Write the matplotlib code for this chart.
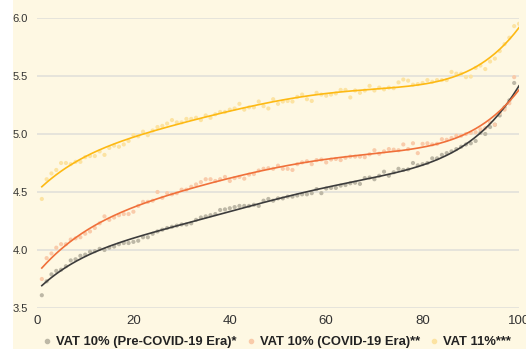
import numpy as np
import matplotlib
matplotlib.use("Agg")
import matplotlib.pyplot as plt
from matplotlib.patches import Rectangle
from matplotlib.lines import Line2D

plt.rcParams["font.family"] = ["Liberation Sans", "DejaVu Sans"]

series_labels = ["VAT 10% (Pre-COVID-19 Era)*", "VAT 10% (COVID-19 Era)**", "VAT 11%***"]

pre_covid = [3.61, 3.73, 3.79, 3.82, 3.83, 3.86, 3.91, 3.92, 3.95, 3.96,
             3.985, 3.99, 4.01, 4.00, 4.02, 4.03, 4.05, 4.06, 4.06, 4.07,
             4.08, 4.11, 4.11, 4.14, 4.16, 4.175, 4.19, 4.20, 4.21, 4.22,
             4.22, 4.23, 4.26, 4.28, 4.29, 4.30, 4.31, 4.345, 4.35, 4.36,
             4.37, 4.38, 4.38, 4.38, 4.39, 4.38, 4.425, 4.44, 4.425, 4.445,
             4.445, 4.46, 4.46, 4.47, 4.48, 4.48, 4.49, 4.525, 4.49, 4.53,
             4.535, 4.535, 4.555, 4.56, 4.575, 4.58, 4.57, 4.62, 4.625, 4.61,
             4.64, 4.675, 4.64, 4.67, 4.70, 4.69, 4.695, 4.75, 4.73, 4.74,
             4.75, 4.79, 4.79, 4.82, 4.835, 4.85, 4.87, 4.89, 4.91, 4.92,
             4.94, 5.01, 5.00, 5.06, 5.08, 5.16, 5.23, 5.29, 5.44]

covid = [3.75, 3.93, 3.97, 4.02, 4.05, 4.05, 4.09, 4.10, 4.11, 4.14,
         4.16, 4.19, 4.23, 4.29, 4.26, 4.28, 4.30, 4.31, 4.31, 4.33,
         4.38, 4.415, 4.415, 4.425, 4.50, 4.45, 4.49, 4.48, 4.49, 4.52,
         4.52, 4.545, 4.565, 4.585, 4.61, 4.61, 4.595, 4.61, 4.63, 4.595,
         4.62, 4.63, 4.615, 4.65, 4.655, 4.685, 4.70, 4.705, 4.70, 4.727,
         4.70, 4.70, 4.69, 4.74, 4.755, 4.765, 4.74, 4.775, 4.78, 4.755,
         4.78, 4.785, 4.775, 4.795, 4.805, 4.805, 4.805, 4.80, 4.825, 4.86,
         4.83, 4.85, 4.87, 4.865, 4.86, 4.91, 4.87, 4.92, 4.835, 4.915,
         4.92, 4.91, 4.915, 4.955, 4.95, 4.965, 4.985, 4.985, 5.00, 5.01,
         5.015, 5.04, 5.05, 5.10, 5.08, 5.18, 5.21, 5.265, 5.49]

vat11 = [4.44, 4.61, 4.66, 4.69, 4.75, 4.75, 4.74, 4.76, 4.76, 4.80,
         4.81, 4.81, 4.85, 4.82, 4.88, 4.90, 4.89, 4.91, 4.94, 4.99,
         4.98, 5.02, 4.99, 5.03, 5.06, 5.07, 5.09, 5.12, 5.10, 5.10,
         5.13, 5.13, 5.14, 5.12, 5.16, 5.14, 5.17, 5.19, 5.19, 5.21,
         5.22, 5.26, 5.21, 5.23, 5.23, 5.28, 5.24, 5.22, 5.30, 5.26,
         5.28, 5.285, 5.28, 5.32, 5.34, 5.30, 5.285, 5.355, 5.34, 5.33,
         5.34, 5.35, 5.38, 5.38, 5.315, 5.375, 5.355, 5.375, 5.415, 5.375,
         5.40, 5.385, 5.40, 5.395, 5.445, 5.47, 5.46, 5.425, 5.43, 5.44,
         5.465, 5.45, 5.465, 5.465, 5.465, 5.535, 5.52, 5.52, 5.49, 5.495,
         5.57, 5.59, 5.56, 5.625, 5.65, 5.715, 5.775, 5.83, 5.93, 5.95]

x_ticks = [0, 20, 40, 60, 80, 100]
y_ticks = [3.5, 4.0, 4.5, 5.0, 5.5, 6.0]
trend_degree = 5

point_colors = ["#BDB8A6", "#F9CBAA", "#FCE3A2"]
line_colors = ["#3C3C3C", "#F0703A", "#FDB913"]
bg = "#FEF8E3"

W, H = 526, 349
fig = plt.figure(figsize=(W / 100, H / 100), dpi=100, facecolor=bg)
fig.patches.append(Rectangle((0, 0), 13 / W, 1, transform=fig.transFigure,
                             facecolor="white", edgecolor="none", zorder=0))

ax = fig.add_axes([37 / W, (H - 308) / H, 482 / W, 290 / H])
ax.set_facecolor(bg)
ax.patch.set_alpha(0)

all_series = [pre_covid, covid, vat11]
for vals, pc, lc in zip(all_series, point_colors, line_colors):
    xs = np.arange(1, len(vals) + 1)
    ax.scatter(xs, vals, s=9, color=pc, edgecolors="none", zorder=2)
    coef = np.polyfit(xs, vals, trend_degree)
    xf = np.linspace(1, 100, 300)
    ax.plot(xf, np.polyval(coef, xf), color=lc, lw=1.2, zorder=3)

ax.set_xlim(0, 100)
ax.set_ylim(3.5, 6.0)
ax.set_xticks(x_ticks)
ax.set_yticks(y_ticks)
ax.set_yticklabels([f"{v:.1f}" for v in y_ticks])
ax.grid(axis="y", color="#E2E0DA", lw=1.2, zorder=1)
ax.grid(axis="x", visible=False)
for s in ax.spines.values():
    s.set_visible(False)
ax.tick_params(axis="both", length=0, colors="#333333")
ax.tick_params(axis="y", labelsize=8, pad=6.5)
ax.tick_params(axis="x", labelsize=9.5, pad=5)
ax.set_axisbelow(True)

handles = [Line2D([], [], ls="none", marker="o", ms=3, color=c) for c in point_colors]
fig.legend(handles, series_labels, loc="center", ncol=3,
           bbox_to_anchor=(0.524, 0.02), frameon=False,
           prop={"weight": "bold", "size": 9.4}, handletextpad=0.2,
           columnspacing=0.6, handlelength=1.0, labelcolor="#222222")

fig.savefig("out.png", dpi=100, facecolor=bg)
